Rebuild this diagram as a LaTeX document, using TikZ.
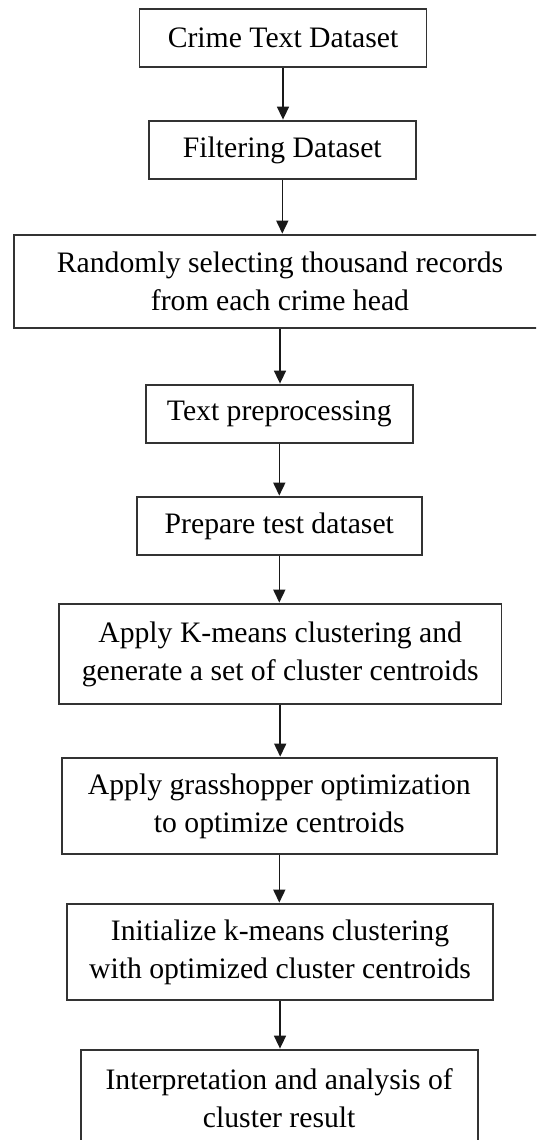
\documentclass[tikz,border=0pt]{standalone}
\usepackage{fontspec}
\setmainfont{Liberation Serif}
\usetikzlibrary{arrows.meta}

\tikzset{
  stepbox/.style={draw=black!80, line width=1.8pt, fill=white, inner sep=0pt,
    align=center, font=\fontsize{29.7}{38}\selectfont, text=black},
  flow/.style={draw=black!90, line width=1.6pt,
    -{Triangle[length=13pt,width=12pt]}, shorten >=0.5pt}
}
% lower a line of text a little inside its box
\newcommand{\lowered}[1]{\raisebox{-4pt}{#1}}

\begin{document}
\begin{tikzpicture}[x=1pt, y=-1pt]
  \clip (0,0) rectangle (536,1140);
  \fill[white] (0,0) rectangle (536,1140);

  \node[stepbox, minimum width=287pt, minimum height=58pt] (s1) at (283,38)
    {Crime Text Dataset};
  \node[stepbox, minimum width=266.6pt, minimum height=58pt] (s2) at (282.3,150)
    {Filtering Dataset};
  \node[stepbox, minimum width=532.6pt, minimum height=93pt] (s3) at (280,281.5)
    {\lowered{Randomly selecting thousand records}\\\lowered{from each crime head}};
  \node[stepbox, minimum width=266.6pt, minimum height=58pt] (s4) at (279.3,414)
    {Text preprocessing};
  \node[stepbox, minimum width=285pt, minimum height=58pt] (s5) at (279.3,526)
    {Prepare test dataset};
  \node[stepbox, minimum width=442.4pt, minimum height=100pt] (s6) at (280.2,654)
    {Apply K-means clustering and\\generate a set of cluster centroids};
  \node[stepbox, minimum width=434.7pt, minimum height=96pt] (s7) at (279.3,806)
    {Apply grasshopper optimization\\to optimize centroids};
  \node[stepbox, minimum width=426.5pt, minimum height=96pt] (s8) at (280,952)
    {Initialize k-means clustering\\with optimized cluster centroids};
  \node[stepbox, minimum width=397pt, minimum height=96pt] (s9) at (279.2,1098)
    {\lowered{Interpretation and analysis of}\\\lowered{cluster result}};

  \foreach \a/\b in {s1/s2, s2/s3, s3/s4, s4/s5, s5/s6, s6/s7, s7/s8, s8/s9}
    \draw[flow] (\a.south) -- (\a.south |- \b.north);
\end{tikzpicture}
\end{document}
